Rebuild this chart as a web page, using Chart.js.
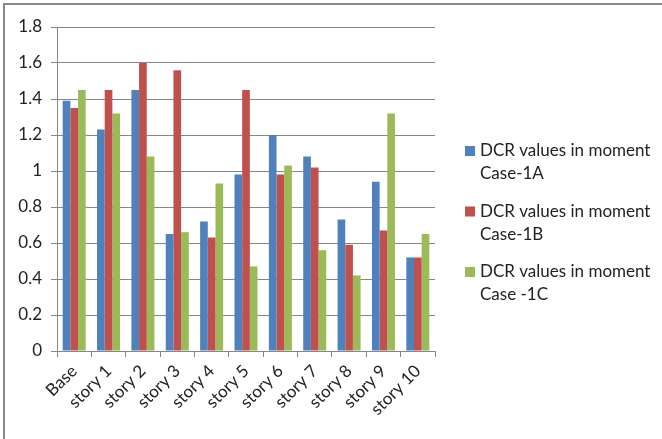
<!DOCTYPE html>
<html>
<head>
<meta charset="utf-8">
<script src="https://cdn.jsdelivr.net/npm/chart.js@4.4.1/dist/chart.umd.min.js"></script>
<style>
    html, body { margin: 0; padding: 0; background: #fff; }
    #wrap { position: absolute; left: 0; top: 0; width: 662px; height: 439px; }
    #frame { position: absolute; left: 3px; top: 3px; right: 0; bottom: 0; border-top: 2px solid #898989; border-left: 2px solid #898989; pointer-events: none; }
</style>
</head>
<body>
<div id="wrap">
    <canvas id="dcrChart" width="662" height="439"></canvas>
    <div id="frame"></div>
</div>
<script>
// Chart data
const categories = ['Base', 'story 1', 'story 2', 'story 3', 'story 4', 'story 5', 'story 6', 'story 7', 'story 8', 'story 9', 'story 10'];
const case1A = [1.39, 1.23, 1.45, 0.65, 0.72, 0.98, 1.20, 1.08, 0.73, 0.94, 0.52];
const case1B = [1.35, 1.45, 1.60, 1.56, 0.63, 1.45, 0.98, 1.02, 0.59, 0.67, 0.52];
const case1C = [1.45, 1.32, 1.08, 0.66, 0.93, 0.47, 1.03, 0.56, 0.42, 1.32, 0.65];
const seriesLabels = [
    ['DCR values in moment', 'Case-1A'],
    ['DCR values in moment', 'Case-1B'],
    ['DCR values in moment', 'Case -1C']
];
const yTicks = [0, 0.2, 0.4, 0.6, 0.8, 1, 1.2, 1.4, 1.6, 1.8];

const colors = ['#4f81bd', '#c0504d', '#9bbb59'];
const gridColor = '#878787';
const textColor = '#222';
const fontFamily = 'Lato, "Open Sans", sans-serif';

// Legend drawn on the right, two lines per entry
const sideLegend = {
    id: 'sideLegend',
    afterDraw(chart) {
        const ctx = chart.ctx;
        ctx.save();
        ctx.font = '17px ' + fontFamily;
        ctx.textBaseline = 'middle';
        ctx.textAlign = 'left';
        chart.data.datasets.forEach((ds, i) => {
            const y = 151 + i * 60.5;
            ctx.fillStyle = ds.backgroundColor;
            ctx.fillRect(465, y - 5, 10, 10);
            ctx.fillStyle = textColor;
            seriesLabels[i].forEach((line, j) => ctx.fillText(line, 480, y + j * 23));
        });
        ctx.restore();
    }
};

const ctx = document.getElementById('dcrChart').getContext('2d');

new Chart(ctx, {
    type: 'bar',
    data: {
        labels: categories,
        datasets: [
            { label: seriesLabels[0].join(' '), data: case1A, backgroundColor: colors[0] },
            { label: seriesLabels[1].join(' '), data: case1B, backgroundColor: colors[1] },
            { label: seriesLabels[2].join(' '), data: case1C, backgroundColor: colors[2] }
        ]
    },
    options: {
        responsive: false,
        animation: false,
        categoryPercentage: 0.67,
        barPercentage: 1,
        layout: { padding: { left: 0, top: 27, right: 227, bottom: 0 } },
        plugins: {
            legend: { display: false },
            tooltip: { enabled: false }
        },
        scales: {
            y: {
                min: 0, max: 1.8,
                afterFit: axis => { axis.width = 57; },
                afterBuildTicks: axis => { axis.ticks = yTicks.map(v => ({ value: v })); },
                ticks: { color: textColor, padding: 9, font: { family: fontFamily, size: 17 }, callback: v => String(v) },
                grid: { color: gridColor, tickLength: 6, lineWidth: 1 },
                border: { color: gridColor, width: 1 }
            },
            x: {
                afterFit: axis => { axis.height = 88; },
                ticks: { color: textColor, minRotation: 45, maxRotation: 45, padding: 4, font: { family: fontFamily, size: 17 } },
                grid: { display: true, drawOnChartArea: false, color: gridColor, tickLength: 6, offset: true },
                border: { color: gridColor, width: 1 }
            }
        }
    },
    plugins: [sideLegend]
});
</script>
</body>
</html>
